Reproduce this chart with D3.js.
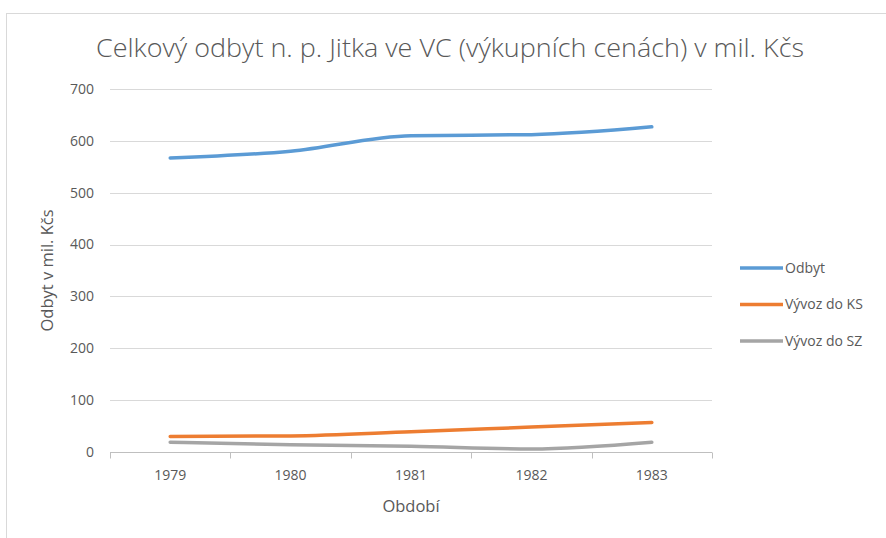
<!DOCTYPE html>
<html>
<head>
<meta charset="utf-8">
<script src="https://cdn.jsdelivr.net/npm/d3@7"></script>
<style>
  body { margin: 0; background: #fff; }
  text { font-family: "Open Sans", "Noto Sans", sans-serif; fill: #595959; }
</style>
</head>
<body>
<div id="chart"></div>
<script>
// data
const years = ["1979", "1980", "1981", "1982", "1983"];
const odbyt = [567, 580, 610, 612, 627];
const vyvozKS = [30, 31, 39, 48, 57];
const vyvozSZ = [19, 14, 11, 6, 19];
const seriesNames = ["Odbyt", "Vývoz do KS", "Vývoz do SZ"];
const yTicks = [0, 100, 200, 300, 400, 500, 600, 700];

const colors = ["#5b9bd5", "#ed7d31", "#a5a5a5"];

const W = 886, H = 538;
const margin = { top: 89, right: 174, bottom: 86, left: 110 };
const width = 712 - margin.left;
const height = 452 - margin.top;

const root = d3.select("#chart").append("svg")
  .attr("width", W).attr("height", H);

// chart frame
root.append("rect")
  .attr("x", 6.5).attr("y", 13.5)
  .attr("width", W + 10).attr("height", H + 10)
  .attr("fill", "none").attr("stroke", "#d9d9d9");

// title
root.append("text")
  .attr("x", 450).attr("y", 57)
  .attr("text-anchor", "middle")
  .attr("textLength", 708)
  .attr("lengthAdjust", "spacingAndGlyphs")
  .style("font-size", "25px")
  .style("font-weight", "300")
  .text("Celkový odbyt n. p. Jitka ve VC (výkupních cenách) v mil. Kčs");

const svg = root.append("g")
  .attr("transform", `translate(${margin.left},${margin.top})`);

const x = d3.scaleBand().domain(years).range([0, width]);
const y = d3.scaleLinear().domain([0, 700]).range([height, 0]);

// gridlines
svg.append("g")
  .selectAll("line")
  .data(yTicks.filter(d => d > 0))
  .join("line")
  .attr("x1", 0).attr("x2", width)
  .attr("y1", d => Math.round(y(d)) + 0.5).attr("y2", d => Math.round(y(d)) + 0.5)
  .attr("stroke", "#d9d9d9");

// y tick labels
svg.append("g")
  .selectAll("text")
  .data(yTicks)
  .join("text")
  .attr("x", -16)
  .attr("y", d => y(d))
  .attr("dy", "0.35em")
  .attr("text-anchor", "end")
  .style("font-size", "14px")
  .text(d => d);

// x axis
const xAxis = svg.append("g")
  .attr("transform", `translate(0,${Math.round(height) + 0.5})`);
xAxis.append("line")
  .attr("x1", 0).attr("x2", width)
  .attr("stroke", "#bfbfbf");
xAxis.selectAll(".tick")
  .data(years.concat(["end"]))
  .join("line")
  .attr("class", "tick")
  .attr("x1", (d, i) => Math.round(i * x.bandwidth()) + 0.5)
  .attr("x2", (d, i) => Math.round(i * x.bandwidth()) + 0.5)
  .attr("y1", 0).attr("y2", 6)
  .attr("stroke", "#bfbfbf");
xAxis.selectAll("text")
  .data(years)
  .join("text")
  .attr("x", d => x(d) + x.bandwidth() / 2)
  .attr("y", 27)
  .attr("text-anchor", "middle")
  .style("font-size", "14px")
  .text(d => d);

// axis titles
svg.append("text")
  .attr("x", width / 2)
  .attr("y", height + 60)
  .attr("text-anchor", "middle")
  .style("font-size", "16.5px")
  .text("Období");

svg.append("text")
  .attr("transform", `translate(-57,${height / 2}) rotate(-90)`)
  .attr("text-anchor", "middle")
  .style("font-size", "16.5px")
  .text("Odbyt v mil. Kčs");

// lines
const line = d3.line()
  .x((d, i) => x(years[i]) + x.bandwidth() / 2)
  .y(d => y(d))
  .curve(d3.curveMonotoneX);

const allSeries = [odbyt, vyvozKS, vyvozSZ];
svg.selectAll(".series")
  .data(allSeries)
  .join("path")
  .attr("class", "series")
  .attr("d", line)
  .attr("fill", "none")
  .attr("stroke", (d, i) => colors[i])
  .attr("stroke-width", 3.5)
  .attr("stroke-linecap", "round");

// legend
const legend = root.append("g").attr("transform", "translate(740,268)");
const items = legend.selectAll("g")
  .data(seriesNames)
  .join("g")
  .attr("transform", (d, i) => `translate(0,${i * 36.5})`);
items.append("line")
  .attr("x1", 0).attr("x2", 43)
  .attr("stroke", (d, i) => colors[i])
  .attr("stroke-width", 3.5);
items.append("text")
  .attr("x", 45)
  .attr("dy", "0.35em")
  .style("font-size", "14px")
  .text(d => d);
</script>
</body>
</html>
